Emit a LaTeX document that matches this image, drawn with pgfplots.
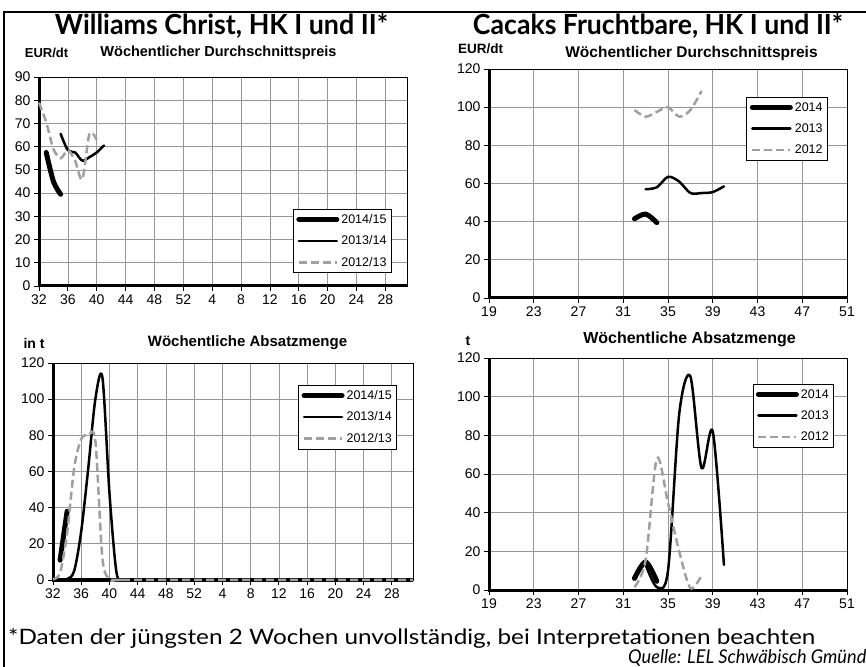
\documentclass[border=0pt]{standalone}
\usepackage{fontspec}
\setmainfont{Liberation Sans}
\newfontfamily\titlefont{Lato}
\newfontfamily\footfont{Lato}
\usepackage{pgfplots}
\pgfplotsset{compat=1.18}
\definecolor{gridgray}{RGB}{150,150,150}
\definecolor{dashgray}{RGB}{160,160,160}
\pgfplotsset{
 legend image code/.code={\draw[#1] (0pt,0pt) -- (38pt,0pt);},
 panel/.style={
  scale only axis, anchor=south west,
  axis line style={black, line width=0.8pt},
  grid=major, major grid style={draw=gridgray, line width=0.7pt},
  tick align=outside, major tick length=5pt,
  tick style={black, line width=0.8pt},
  xtick pos=bottom, ytick pos=left,
  ticklabel style={font=\fontsize{14}{14}\selectfont},
  /pgf/number format/assume math mode=true,
  clip=false,
  legend cell align=left,
  legend style={draw=black, line width=0.8pt, fill=white,
    font=\fontsize{12.5}{12.5}\selectfont, inner xsep=3pt, inner ysep=3pt,
    row sep=7pt},
 },
 sA/.style={black, line width=5pt, smooth, line cap=round, line join=round},
 sB/.style={black, line width=2.5pt, smooth, line cap=round, line join=round},
 sC/.style={dashgray, line width=2.5pt, smooth, dash pattern=on 8pt off 4pt},
}
\newcommand{\thickframe}{\draw[black, line width=3pt] (rel axis cs:0,1) -- (rel axis cs:0,0) -- (rel axis cs:1,0);}
\begin{document}
\begin{tikzpicture}
\path[use as bounding box] (0pt,0pt) rectangle (866pt,666pt);
\fill[white] (0pt,0pt) rectangle (866pt,666pt);
\draw[black, line width=2.5pt] (4pt,-3pt) -- (4pt,654pt) -- (870pt,654pt);

% titles
\node[anchor=base, inner sep=0pt] at (221.5pt,631pt) {\resizebox{333pt}{21pt}{\titlefont\bfseries Williams Christ, HK I und II*}};
\node[anchor=base, inner sep=0pt] at (658pt,631pt) {\resizebox{370pt}{21pt}{\titlefont\bfseries Cacaks Fruchtbare, HK I und II*}};

% sub labels
\node[font=\bfseries\fontsize{13}{13}\selectfont] at (46.5pt,613pt) {EUR/dt};
\node[font=\bfseries\fontsize{14.5}{14.5}\selectfont] at (218.5pt,613pt) {Wöchentlicher Durchschnittspreis};
\node[font=\bfseries\fontsize{13.5}{13.5}\selectfont] at (480.5pt,617pt) {EUR/dt};
\node[font=\bfseries\fontsize{15.5}{15.5}\selectfont] at (691.5pt,612pt) {Wöchentlicher Durchschnittspreis};
\node[font=\bfseries\fontsize{14}{14}\selectfont] at (34pt,323pt) {in t};
\node[font=\bfseries\fontsize{15}{15}\selectfont] at (247.5pt,323pt) {Wöchentliche Absatzmenge};
\node[font=\bfseries\fontsize{14}{14}\selectfont] at (468pt,325pt) {t};
\node[font=\bfseries\fontsize{16}{16}\selectfont] at (689.5pt,327pt) {Wöchentliche Absatzmenge};

% footnote
\node[anchor=base west, inner sep=0pt] at (8pt,22pt) {\resizebox{807pt}{16pt}{\footfont *Daten der jüngsten 2 Wochen unvollständig, bei Interpretationen beachten}};
\node[anchor=base west, inner sep=0pt] at (628pt,3pt) {\resizebox{238pt}{14pt}{\footfont\itshape Quelle: LEL Schwäbisch Gmünd}};

% ---------- top left
\begin{axis}[panel, at={(39pt,380pt)}, width=368pt, height=209pt,
  xmin=0, xmax=51, ymin=0, ymax=90,
  xtick={0,4,...,48}, xticklabels={32,36,40,44,48,52,4,8,12,16,20,24,28},
  ytick={0,10,...,90},
  legend style={at={(0.959,0.062)}, anchor=south east}]
\thickframe
\addplot[sA] coordinates {(1,57.5) (2,45) (3,39.5)};
\addplot[sB] coordinates {(3,65.5) (4,58.5) (5,57.5) (6,54) (7,55.5) (8,57.5) (9,60.5)};
\addplot[sC] coordinates {(0,79) (1,70.5) (2,59) (3,55) (4,58.5) (5,54) (6,46) (7,65.5) (8,63)};
\legend{2014/15,2013/14,2012/13}
\end{axis}

% ---------- top right
\begin{axis}[panel, at={(489pt,368pt)}, width=358pt, height=229pt,
  xmin=19, xmax=51, ymin=0, ymax=120,
  xtick={19,23,...,51}, ytick={0,20,...,120},
  legend style={at={(0.947,0.878)}, anchor=north east}]
\thickframe
\addplot[sA] coordinates {(32,41.5) (33,44) (34,39.5)};
\addplot[sB] coordinates {(33,57) (34,58) (35,63.5) (36,61) (37,55) (38,55) (39,55.5) (40,58.5)};
\addplot[sC] coordinates {(32,98.5) (33,95) (34,97.5) (35,100) (36,95) (37,98.5) (38,108.5)};
\legend{2014,2013,2012}
\end{axis}

% ---------- bottom left
\begin{axis}[panel, at={(53pt,86pt)}, width=360pt, height=217pt,
  xmin=0, xmax=51, ymin=0, ymax=120,
  xtick={0,4,...,48}, xticklabels={32,36,40,44,48,52,4,8,12,16,20,24,28},
  ytick={0,20,...,120},
  legend style={at={(0.956,0.899)}, anchor=north east}]
\thickframe
\addplot[sA] coordinates {(1,11) (2,38)};
\addplot[sB] coordinates {(0,0) (1,0) (2,0.5) (3,5) (4,27) (5,62) (6,100) (7,112) (8,48) (9,4) (10,0) (11,0) (12,0) (51,0)};
\addplot[sC] coordinates {(0,0.5) (1,4) (2,26) (3,62) (4,78) (5,80) (6,77) (7,12) (8,0.5) (9,0) (10,0) (11,0) (51,0)};
\legend{2014/15,2013/14,2012/13}
\end{axis}

% ---------- bottom right
\begin{axis}[panel, at={(489pt,76pt)}, width=358pt, height=232pt,
  xmin=19, xmax=51, ymin=0, ymax=120,
  xtick={19,23,...,51}, ytick={0,20,...,120},
  legend style={at={(0.964,0.888)}, anchor=north east}]
\thickframe
\addplot[sA] coordinates {(32,6) (33,14.5) (34,4.5)};
\addplot[sB] coordinates {(33,13) (34,1.5) (35,10) (36,91) (37,110.5) (38,63) (39,82) (40,13)};
\addplot[sC] coordinates {(32,1.5) (33,15.5) (34,68) (35,45) (36,20) (37,1) (38,7.5)};
\legend{2014,2013,2012}
\end{axis}
\end{tikzpicture}
\end{document}
